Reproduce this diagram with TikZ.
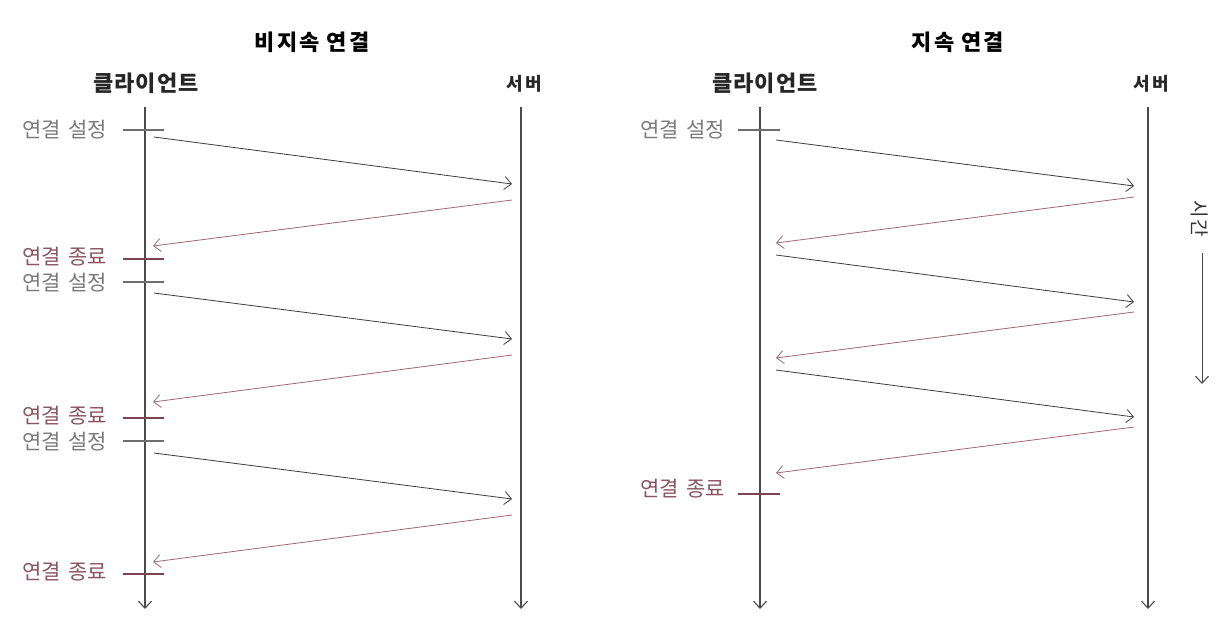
\documentclass[tikz,border=0pt]{standalone}
\usepackage{fontspec}
\setmainfont{Noto Sans CJK KR}
\usetikzlibrary{arrows.meta}
\definecolor{lifec}{HTML}{4A4A4A}
\definecolor{reqc}{HTML}{3C3C3C}
\definecolor{respc}{HTML}{9C6873}
\definecolor{setc}{HTML}{7A7A7A}
\definecolor{endc}{HTML}{8A5460}
\definecolor{endtick}{HTML}{7A4450}
\newcommand{\gap}{\hspace{7pt}}
\tikzset{
  life/.style={draw=lifec, line width=1.1pt, -{Straight Barb[length=7pt,width=13pt,line width=1.1pt]}},
  req/.style={draw=reqc, line width=0.8pt, -{Straight Barb[length=7pt,width=13pt,line width=0.8pt]}},
  resp/.style={draw=respc, line width=0.8pt, -{Straight Barb[length=7pt,width=13pt,line width=0.8pt]}},
  setmark/.style={draw=setc!90!black, line width=1.4pt},
  endmark/.style={draw=endtick, line width=2.2pt},
  settext/.style={text=setc, font=\fontsize{21}{21}\selectfont, anchor=east, inner sep=0pt},
  endtext/.style={text=endc, font=\fontsize{21}{21}\selectfont, anchor=east, inner sep=0pt},
  titletext/.style={text=black, font=\fontsize{22}{22}\selectfont\bfseries\addfontfeature{LetterSpace=10}, inner sep=0pt},
  headtext/.style={text=black!85, font=\fontsize{22}{22}\selectfont\bfseries\addfontfeature{LetterSpace=4}, inner sep=0pt},
  srvtext/.style={text=black!85, font=\fontsize{18}{18}\selectfont\bfseries\addfontfeature{LetterSpace=15}, inner sep=0pt},
}
\begin{document}
\begin{tikzpicture}[x=1pt,y=-1pt]
\useasboundingbox (0,0) rectangle (1227,642);
\fill[white] (0,0) rectangle (1227,642);

% ---------------- left panel: non-persistent ----------------
\node[titletext] (t1) at (312,42) {비지속\gap 연결};
\node[headtext] (c1) at (146,83) {클라이언트};
\node[srvtext] (s1) at (524,84) {서버};

\coordinate (c1top) at (145,107);
\coordinate (c1bot) at (145,609);
\coordinate (s1top) at (521,107);
\coordinate (s1bot) at (521,609);
\draw[life] (c1top) -- (c1bot);
\draw[life] (s1top) -- (s1bot);

% tick marks
\coordinate (a1l) at (123,130); \coordinate (a1r) at (164,130);
\coordinate (b1l) at (123,259); \coordinate (b1r) at (164,259);
\coordinate (a2l) at (123,282); \coordinate (a2r) at (164,282);
\coordinate (b2l) at (123,418); \coordinate (b2r) at (164,418);
\coordinate (a3l) at (123,441); \coordinate (a3r) at (164,441);
\coordinate (b3l) at (123,574); \coordinate (b3r) at (164,574);
\draw[setmark] (a1l) -- (a1r);
\draw[endmark] (b1l) -- (b1r);
\draw[setmark] (a2l) -- (a2r);
\draw[endmark] (b2l) -- (b2r);
\draw[setmark] (a3l) -- (a3r);
\draw[endmark] (b3l) -- (b3r);

\node[settext] (la1) at (107,130) {연결\gap 설정};
\node[endtext] (lb1) at (107,257) {연결\gap 종료};
\node[settext] (la2) at (107,283) {연결\gap 설정};
\node[endtext] (lb2) at (107,416) {연결\gap 종료};
\node[settext] (la3) at (107,442) {연결\gap 설정};
\node[endtext] (lb3) at (107,572) {연결\gap 종료};

% messages
\coordinate (q1s) at (154,137); \coordinate (q1e) at (512,184);
\coordinate (r1s) at (512,200); \coordinate (r1e) at (153,246);
\coordinate (q2s) at (154,293); \coordinate (q2e) at (512,339);
\coordinate (r2s) at (512,355); \coordinate (r2e) at (153,402);
\coordinate (q3s) at (154,453); \coordinate (q3e) at (512,499);
\coordinate (r3s) at (512,515); \coordinate (r3e) at (153,562);
\draw[req] (q1s) -- (q1e);
\draw[resp] (r1s) -- (r1e);
\draw[req] (q2s) -- (q2e);
\draw[resp] (r2s) -- (r2e);
\draw[req] (q3s) -- (q3e);
\draw[resp] (r3s) -- (r3e);

% ---------------- right panel: persistent ----------------
\node[titletext] (t2) at (958,42) {지속\gap 연결};
\node[headtext] (c2) at (765,83) {클라이언트};
\node[srvtext] (s2) at (1151,84) {서버};

\coordinate (c2top) at (760,107);
\coordinate (c2bot) at (760,609);
\coordinate (s2top) at (1148,107);
\coordinate (s2bot) at (1148,609);
\draw[life] (c2top) -- (c2bot);
\draw[life] (s2top) -- (s2bot);

\coordinate (a4l) at (738,130); \coordinate (a4r) at (780,130);
\coordinate (b4l) at (738,494); \coordinate (b4r) at (780,494);
\draw[setmark] (a4l) -- (a4r);
\draw[endmark] (b4l) -- (b4r);
\node[settext] (la4) at (725,130) {연결\gap 설정};
\node[endtext] (lb4) at (725,489) {연결\gap 종료};

\coordinate (q4s) at (776,140); \coordinate (q4e) at (1134,186);
\coordinate (r4s) at (1134,197); \coordinate (r4e) at (776,243);
\coordinate (q5s) at (776,255); \coordinate (q5e) at (1134,302);
\coordinate (r5s) at (1134,312); \coordinate (r5e) at (776,358);
\coordinate (q6s) at (776,370); \coordinate (q6e) at (1134,417);
\coordinate (r6s) at (1134,427); \coordinate (r6e) at (776,473);
\draw[req] (q4s) -- (q4e);
\draw[resp] (r4s) -- (r4e);
\draw[req] (q5s) -- (q5e);
\draw[resp] (r5s) -- (r5e);
\draw[req] (q6s) -- (q6e);
\draw[resp] (r6s) -- (r6e);

% time axis
\node[text=black!80, font=\fontsize{19}{19}\selectfont\addfontfeature{LetterSpace=10}, rotate=-90, inner sep=0pt] (time) at (1200,219) {시간};
\coordinate (tstart) at (1202,253);
\coordinate (tend) at (1202,384);
\draw[life, line width=1pt] (tstart) -- (tend);
\end{tikzpicture}
\end{document}
